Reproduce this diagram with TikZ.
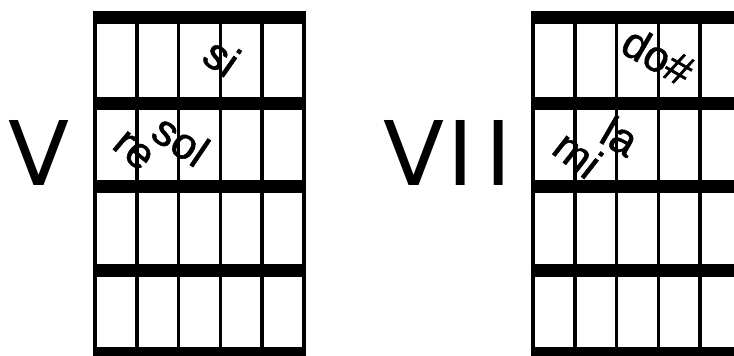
\documentclass[tikz,border=0pt]{standalone}
\usepackage{fontspec}
\setmainfont{Liberation Sans}
\newfontfamily\numfont{DejaVu Sans}
\newfontfamily\notefont[FakeBold=1.2]{Liberation Sans}

\begin{document}
\begin{tikzpicture}[x=.5pt,y=-.5pt,
 every node/.style={inner sep=0pt,text=black},
 string/.style={line width=1.8pt},
 fret/.style={line width=6.5pt},
 numeral/.style={font=\numfont\fontsize{44.6}{50}\selectfont},
 note/.style={font=\notefont\fontsize{22}{26}\selectfont}]
 \path[use as bounding box] (0,0) rectangle (734,356);
 \clip (0,0) rectangle (734,356);
 % Two fretboard boxes, the second one runs off the right edge.
 \foreach \dx in {0,438}{
  \begin{scope}[shift={(\dx,0)}]
   \foreach \s in {0,...,5}
    \draw[string] (95+41.8*\s,11)--(95+41.8*\s,362);
   \foreach \f in {17.5,103.5,186.5,270.5,353.5}
    \draw[fret] (93.5,\f)--(305.5,\f);
  \end{scope}
 }
 \begin{scope}
  \node[numeral] (posV) at (39,152.5) {V};
  \node[note,rotate=-35] (si) at (222,57) {si};
  \node[note,rotate=-40] (re) at (133,151) {re};
  \node[note,rotate=-34] (sol) at (181,140) {sol};
 \end{scope}
 \begin{scope}
  \node[numeral] (posVII) at (447.5,152.5) {V\kern.04emI\kern.13emI};
  \node[note,rotate=-30] (do) at (658,56) {do\#};
  \node[note,rotate=-38] (mi) at (578,154) {mi};
  \node[note,rotate=-30] (la) at (620,136) {la};
 \end{scope}
\end{tikzpicture}
\end{document}
